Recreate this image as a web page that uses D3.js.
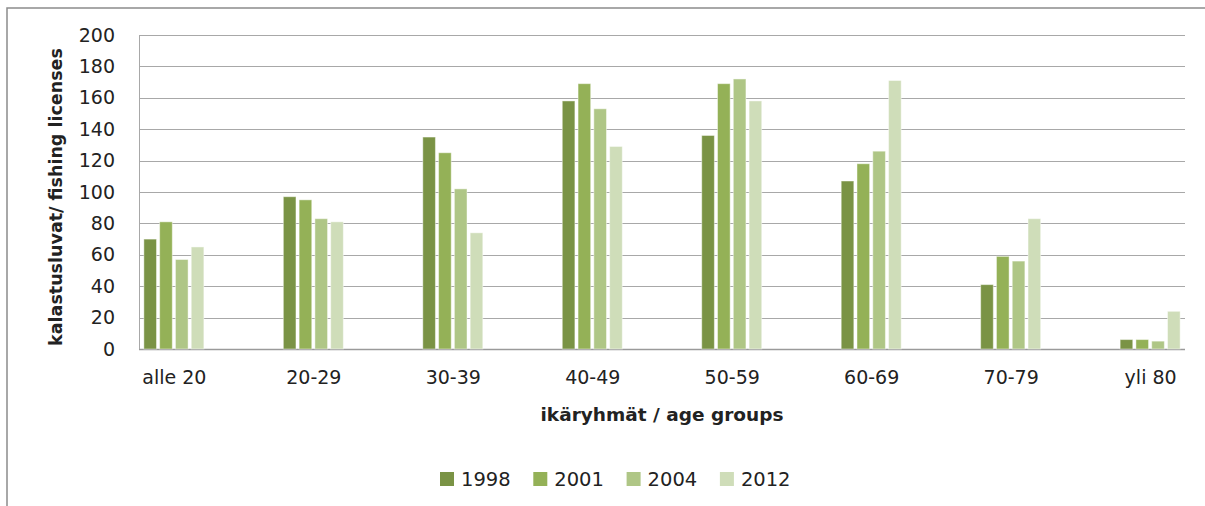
<!DOCTYPE html>
<html>
<head>
<meta charset="utf-8">
<script src="https://cdn.jsdelivr.net/npm/d3@7"></script>
<style>
  body { margin: 0; background: #fff; }
  svg text { font-family: "DejaVu Sans", sans-serif; fill: #222; }
</style>
</head>
<body>
<svg id="chart"></svg>
<script>
// DATA
var ageGroups = ["alle 20", "20-29", "30-39", "40-49", "50-59", "60-69", "70-79", "yli 80"];
var years = ["1998", "2001", "2004", "2012"];
var licenses1998 = [70, 97, 135, 158, 136, 107, 41, 6];
var licenses2001 = [81, 95, 125, 169, 169, 118, 59, 6];
var licenses2004 = [57, 83, 102, 153, 172, 126, 56, 5];
var licenses2012 = [65, 81, 74, 129, 158, 171, 83, 24];
var yTicks = [0, 20, 40, 60, 80, 100, 120, 140, 160, 180, 200];
var yearColors = ["#7a9345", "#94b157", "#afc686", "#cfddb9"];

var seriesValues = [licenses1998, licenses2001, licenses2004, licenses2012];

var svgWidth = 1205;
var svgHeight = 506;
var plotLeft = 139;
var plotRight = 1185;
var plotTop = 35;
var plotBottom = 349;

var svg = d3.select("#chart")
    .attr("width", svgWidth)
    .attr("height", svgHeight);

// outer chart frame (runs off the right and bottom edge)
svg.append("rect")
    .attr("x", 7)
    .attr("y", 8)
    .attr("width", 1260)
    .attr("height", 560)
    .attr("fill", "none")
    .attr("stroke", "#8c8c8c")
    .attr("stroke-width", 1.5);

// SCALES
var y = d3.scaleLinear().domain([0, 200]).range([plotBottom, plotTop]);
var x = d3.scalePoint().domain(ageGroups).range([plotLeft, plotRight]).padding(0.25);
var xInner = d3.scaleBand().domain(years).range([-30, 30]).paddingInner(0.2);
var color = d3.scaleOrdinal().domain(years).range(yearColors);

// GRIDLINES
svg.append("g")
    .selectAll("line")
    .data(yTicks)
    .enter()
    .append("line")
    .attr("x1", plotLeft)
    .attr("x2", plotRight)
    .attr("y1", function (d) { return Math.round(y(d)) + 0.5; })
    .attr("y2", function (d) { return Math.round(y(d)) + 0.5; })
    .attr("stroke", function (d) { return d === 0 ? "#9a9a9a" : "#a8a8a8"; })
    .attr("stroke-width", function (d) { return d === 0 ? 1.5 : 1; });

svg.append("line")
    .attr("x1", plotLeft + 0.5)
    .attr("x2", plotLeft + 0.5)
    .attr("y1", y(200))
    .attr("y2", y(0))
    .attr("stroke", "#a8a8a8");

// Y AXIS LABELS
var yAxis = d3.axisLeft(y).tickValues(yTicks).tickSize(0).tickPadding(24);
var yAxisG = svg.append("g")
    .attr("transform", "translate(" + plotLeft + ",0)")
    .call(yAxis);
yAxisG.select(".domain").remove();
yAxisG.selectAll("text")
    .style("font-size", "19px")
    .attr("fill", "#222");

// X AXIS LABELS
var xAxis = d3.axisBottom(x).tickSize(0).tickPadding(22);
var xAxisG = svg.append("g")
    .attr("transform", "translate(0," + plotBottom + ")")
    .call(xAxis);
xAxisG.select(".domain").remove();
xAxisG.selectAll("text")
    .style("font-size", "19px")
    .attr("fill", "#222");

// BARS
var groups = svg.append("g")
    .selectAll("g")
    .data(ageGroups)
    .enter()
    .append("g")
    .attr("transform", function (d) { return "translate(" + x(d) + ",0)"; });

groups.selectAll("rect")
    .data(function (d, i) {
        return years.map(function (yr, j) {
            return { year: yr, value: seriesValues[j][i] };
        });
    })
    .enter()
    .append("rect")
    .attr("x", function (d) { return xInner(d.year); })
    .attr("width", xInner.bandwidth())
    .attr("y", function (d) { return y(d.value); })
    .attr("height", function (d) { return y(0) - y(d.value); })
    .attr("fill", function (d) { return color(d.year); })
    .attr("stroke", "#ffffff")
    .attr("stroke-opacity", 0.45)
    .attr("stroke-width", 1);

// AXIS TITLES
svg.append("text")
    .attr("x", (plotLeft + plotRight) / 2)
    .attr("y", 421)
    .attr("text-anchor", "middle")
    .style("font-size", "18.5px")
    .style("font-weight", "bold")
    .text("ikäryhmät / age groups");

svg.append("text")
    .attr("transform", "translate(62," + 197 + ") rotate(-90)")
    .attr("text-anchor", "middle")
    .style("font-size", "17.5px")
    .style("font-weight", "bold")
    .text("kalastusluvat/ fishing licenses");

// LEGEND
var legend = svg.append("g")
    .attr("transform", "translate(440,0)");

var legendItems = legend.selectAll("g")
    .data(years)
    .enter()
    .append("g")
    .attr("transform", function (d, i) { return "translate(" + (i * 93.3) + ",0)"; });

legendItems.append("rect")
    .attr("x", 0)
    .attr("y", 472)
    .attr("width", 14)
    .attr("height", 14)
    .attr("fill", function (d) { return color(d); });

legendItems.append("text")
    .attr("x", 21)
    .attr("y", 486)
    .style("font-size", "19.5px")
    .text(function (d) { return d; });
</script>
</body>
</html>
